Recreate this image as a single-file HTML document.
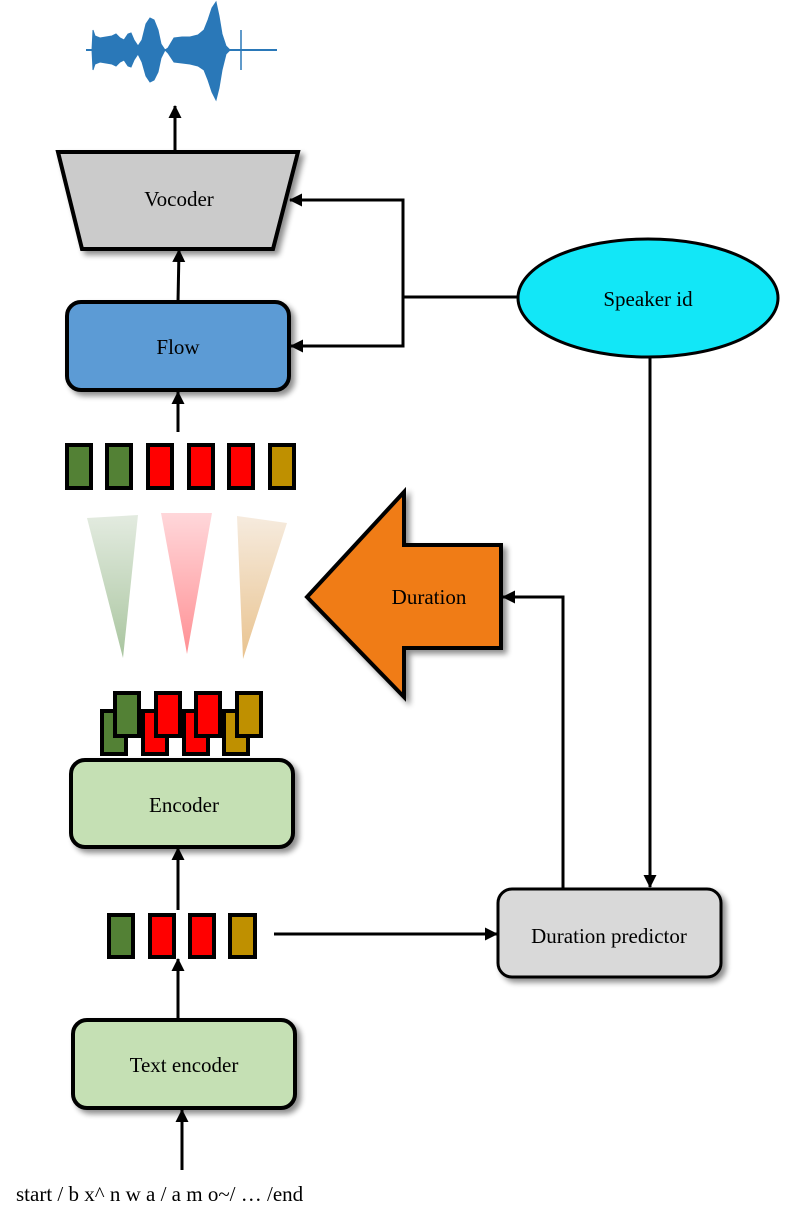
<!DOCTYPE html>
<html><head><meta charset="utf-8"><style>
html,body{margin:0;padding:0;background:#fff;}
svg{display:block;}
text{font-family:"Liberation Serif",serif;font-size:21px;fill:#000;}
</style></head><body>
<svg width="789" height="1221" viewBox="0 0 789 1221" xmlns="http://www.w3.org/2000/svg">
<defs>
<marker id="ah" markerWidth="14" markerHeight="14" refX="12" refY="7" orient="auto" markerUnits="userSpaceOnUse"><path d="M0,0.5 L13,7 L0,13.5 Z" fill="#000"/></marker>
<filter id="sh" x="-10%" y="-10%" width="130%" height="130%"><feGaussianBlur in="SourceAlpha" stdDeviation="3"/><feOffset dx="4" dy="4"/><feComponentTransfer><feFuncA type="linear" slope="0.45"/></feComponentTransfer><feMerge><feMergeNode/><feMergeNode in="SourceGraphic"/></feMerge></filter>
<linearGradient id="gg" x1="0" y1="0" x2="0" y2="1"><stop offset="0" stop-color="#e3ebe0"/><stop offset="1" stop-color="#a9c59f"/></linearGradient>
<linearGradient id="gr" x1="0" y1="0" x2="0" y2="1"><stop offset="0" stop-color="#ffd7da"/><stop offset="1" stop-color="#ff9094"/></linearGradient>
<linearGradient id="gt" x1="0" y1="0" x2="0" y2="1"><stop offset="0" stop-color="#f6ebde"/><stop offset="1" stop-color="#e9c38f"/></linearGradient>
</defs>

<!-- waveform -->
<g stroke="#2a78b8" fill="#2a78b8">
<line x1="86" y1="50" x2="277" y2="50" stroke-width="2"/>
<path d="M92,50 L93,30 L95,36 L100,38 L106,37 L112,36 L116,34 L120,38 L124,40 L128,34 L131,33 L134,40 L138,46 L142,40 L146,24 L150,18 L154,20 L158,30 L161,44 L165,50 L168,48 L174,38 L182,37 L190,37 L198,35 L204,30 L208,20 L212,8 L216,2 L219,16 L222,34 L226,46 L230,50 L226,54 L222,70 L219,88 L216,100 L212,92 L208,80 L204,70 L198,66 L190,64 L182,63 L174,62 L168,53 L165,50 L161,58 L158,72 L154,80 L150,82 L146,76 L142,62 L138,54 L134,60 L131,67 L128,66 L124,60 L120,62 L116,66 L112,64 L106,63 L100,62 L95,64 L93,70 Z" stroke-width="1"/>
<line x1="241" y1="30" x2="241" y2="70" stroke-width="1.5"/>
</g>

<!-- arrows up -->
<line x1="175" y1="152" x2="175" y2="106" stroke="#000" stroke-width="3" marker-end="url(#ah)"/>
<line x1="178" y1="302" x2="179" y2="250" stroke="#000" stroke-width="3" marker-end="url(#ah)"/>
<line x1="178" y1="432" x2="178" y2="392" stroke="#000" stroke-width="3" marker-end="url(#ah)"/>
<line x1="178" y1="910" x2="178" y2="848" stroke="#000" stroke-width="3" marker-end="url(#ah)"/>
<line x1="178" y1="1020" x2="178" y2="959" stroke="#000" stroke-width="3" marker-end="url(#ah)"/>
<line x1="182" y1="1170" x2="182" y2="1110" stroke="#000" stroke-width="3" marker-end="url(#ah)"/>

<!-- vocoder -->
<polygon points="58,152 298,152 273,249 82,249" fill="#cbcbcb" stroke="#000" stroke-width="4" filter="url(#sh)"/>
<text x="179" y="206" text-anchor="middle">Vocoder</text>

<!-- flow -->
<rect x="67" y="302" width="222" height="88" rx="14" fill="#5b9bd5" stroke="#000" stroke-width="4" filter="url(#sh)"/>
<text x="178" y="354" text-anchor="middle">Flow</text>

<!-- speaker -->
<ellipse cx="648" cy="298" rx="130" ry="59" fill="#12e7f7" stroke="#000" stroke-width="3"/>
<text x="648" y="306" text-anchor="middle">Speaker id</text>
<polyline points="518,297 403,297 403,200 290,200" fill="none" stroke="#000" stroke-width="3" marker-end="url(#ah)"/>
<polyline points="403,297 403,346 291,346" fill="none" stroke="#000" stroke-width="3" marker-end="url(#ah)"/>
<line x1="650" y1="357" x2="650" y2="887" stroke="#000" stroke-width="3" marker-end="url(#ah)"/>

<!-- top tokens -->
<g stroke="#000" stroke-width="4">
<rect x="67" y="445" width="24" height="43" fill="#538135"/>
<rect x="107" y="445" width="24" height="43" fill="#538135"/>
<rect x="148" y="445" width="24" height="43" fill="#ff0000"/>
<rect x="189" y="445" width="24" height="43" fill="#ff0000"/>
<rect x="229" y="445" width="24" height="43" fill="#ff0000"/>
<rect x="270" y="445" width="24" height="43" fill="#bf9000"/>
</g>

<!-- triangles -->
<polygon points="87,518 138,515 123,658" fill="url(#gg)"/>
<polygon points="161,513 212,513 187,654" fill="url(#gr)"/>
<polygon points="237,516 287,523 243,659" fill="url(#gt)"/>

<!-- duration arrow -->
<polygon points="307,597 404,492 404,545 501,545 501,648 404,648 404,697" fill="#f07b17" stroke="#000" stroke-width="4" filter="url(#sh)"/>
<text x="429" y="604" text-anchor="middle">Duration</text>
<polyline points="563,889 563,597 503,597" fill="none" stroke="#000" stroke-width="3" marker-end="url(#ah)"/>

<!-- stacked tokens -->
<g stroke="#000" stroke-width="4">
<rect x="102" y="711" width="24" height="43" fill="#538135"/>
<rect x="115" y="693" width="24" height="43" fill="#538135"/>
<rect x="143" y="711" width="24" height="43" fill="#ff0000"/>
<rect x="156" y="693" width="24" height="43" fill="#ff0000"/>
<rect x="184" y="711" width="24" height="43" fill="#ff0000"/>
<rect x="196" y="693" width="24" height="43" fill="#ff0000"/>
<rect x="224" y="711" width="24" height="43" fill="#bf9000"/>
<rect x="237" y="693" width="24" height="43" fill="#bf9000"/>
</g>

<!-- encoder -->
<rect x="71" y="760" width="222" height="87" rx="14" fill="#c5e0b4" stroke="#000" stroke-width="4" filter="url(#sh)"/>
<text x="184" y="812" text-anchor="middle">Encoder</text>

<!-- bottom tokens -->
<g stroke="#000" stroke-width="4">
<rect x="109" y="915" width="24" height="42" fill="#538135"/>
<rect x="150" y="915" width="24" height="42" fill="#ff0000"/>
<rect x="190" y="915" width="24" height="42" fill="#ff0000"/>
<rect x="230" y="915" width="25" height="42" fill="#bf9000"/>
</g>
<line x1="274" y1="934" x2="497" y2="934" stroke="#000" stroke-width="3" marker-end="url(#ah)"/>

<!-- duration predictor -->
<rect x="498" y="889" width="223" height="88" rx="14" fill="#d9d9d9" stroke="#000" stroke-width="3" filter="url(#sh)"/>
<text x="609" y="943" text-anchor="middle">Duration predictor</text>

<!-- text encoder -->
<rect x="73" y="1020" width="222" height="88" rx="14" fill="#c5e0b4" stroke="#000" stroke-width="4" filter="url(#sh)"/>
<text x="184" y="1072" text-anchor="middle">Text encoder</text>

<text x="16" y="1201">start / b x^ n w a / a m o~/ … /end</text>
</svg>
</body></html>
